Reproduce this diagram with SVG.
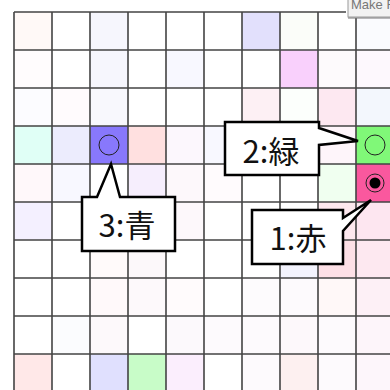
<svg xmlns="http://www.w3.org/2000/svg" width="390" height="390" viewBox="0 0 390 390">
<style>
.gl{stroke:#444;stroke-width:1.6;fill:none}
.mk{fill:none;stroke:#222;stroke-width:1}
.co{fill:#fff;stroke:#000;stroke-width:2.5;stroke-linejoin:miter}
.lb{font-family:"Noto Sans CJK JP","Noto Sans",sans-serif;font-size:31px;fill:#111;text-anchor:middle}
</style>
<rect width="390" height="390" fill="#fff"/>
<g id="cells">
<rect x="14" y="12" width="38" height="38" fill="#fff9f7"/>
<rect x="90" y="12" width="38" height="38" fill="#f6f6fd"/>
<rect x="242" y="12" width="38" height="38" fill="#e2e0fc"/>
<rect x="280" y="12" width="38" height="38" fill="#fbfdf9"/>
<rect x="356" y="12" width="38" height="38" fill="#fafbfe"/>
<rect x="14" y="50" width="38" height="38" fill="#fffcfd"/>
<rect x="90" y="50" width="38" height="38" fill="#f6f6fd"/>
<rect x="166" y="50" width="38" height="38" fill="#f8f8ff"/>
<rect x="280" y="50" width="38" height="38" fill="#f9d0fc"/>
<rect x="318" y="50" width="38" height="38" fill="#fdfafc"/>
<rect x="356" y="50" width="38" height="38" fill="#fdf8fd"/>
<rect x="14" y="88" width="38" height="38" fill="#fcfcff"/>
<rect x="52" y="88" width="38" height="38" fill="#fffbfd"/>
<rect x="90" y="88" width="38" height="38" fill="#f8f8fd"/>
<rect x="242" y="88" width="38" height="38" fill="#fdf0f4"/>
<rect x="280" y="88" width="38" height="38" fill="#fcfffc"/>
<rect x="318" y="88" width="38" height="38" fill="#fde8f1"/>
<rect x="356" y="88" width="38" height="38" fill="#f3f7fd"/>
<rect x="14" y="126" width="38" height="38" fill="#e0fff6"/>
<rect x="52" y="126" width="38" height="38" fill="#ececfd"/>
<rect x="128" y="126" width="38" height="38" fill="#ffe0e0"/>
<rect x="166" y="126" width="38" height="38" fill="#fcf7fd"/>
<rect x="204" y="126" width="38" height="38" fill="#f8f8ff"/>
<rect x="318" y="126" width="38" height="38" fill="#fef5fa"/>
<rect x="14" y="164" width="38" height="38" fill="#fff8fa"/>
<rect x="52" y="164" width="38" height="38" fill="#f8f8ff"/>
<rect x="128" y="164" width="38" height="38" fill="#f6eefd"/>
<rect x="166" y="164" width="38" height="38" fill="#fdf8fb"/>
<rect x="204" y="164" width="38" height="38" fill="#fffbfd"/>
<rect x="318" y="164" width="38" height="38" fill="#f0fff0"/>
<rect x="14" y="202" width="38" height="38" fill="#f4f0ff"/>
<rect x="166" y="202" width="38" height="38" fill="#fdf8fb"/>
<rect x="318" y="202" width="38" height="38" fill="#fde8ee"/>
<rect x="356" y="202" width="38" height="38" fill="#fde6f0"/>
<rect x="90" y="240" width="38" height="38" fill="#fffafa"/>
<rect x="128" y="240" width="38" height="38" fill="#fcf8fa"/>
<rect x="280" y="240" width="38" height="38" fill="#f3f3fd"/>
<rect x="318" y="240" width="38" height="38" fill="#fde0e6"/>
<rect x="356" y="240" width="38" height="38" fill="#fde8f0"/>
<rect x="90" y="278" width="38" height="38" fill="#fff9fa"/>
<rect x="128" y="278" width="38" height="38" fill="#fdf9fb"/>
<rect x="166" y="278" width="38" height="38" fill="#fffbfc"/>
<rect x="242" y="278" width="38" height="38" fill="#fdfbfd"/>
<rect x="280" y="278" width="38" height="38" fill="#fdfafd"/>
<rect x="318" y="278" width="38" height="38" fill="#fff8f8"/>
<rect x="356" y="278" width="38" height="38" fill="#fdf0f6"/>
<rect x="52" y="316" width="38" height="38" fill="#fbfcfe"/>
<rect x="90" y="316" width="38" height="38" fill="#fdf9fb"/>
<rect x="166" y="316" width="38" height="38" fill="#fcf9fc"/>
<rect x="204" y="316" width="38" height="38" fill="#fdfafd"/>
<rect x="242" y="316" width="38" height="38" fill="#fdfafd"/>
<rect x="280" y="316" width="38" height="38" fill="#fdf8fb"/>
<rect x="318" y="316" width="38" height="38" fill="#fdfafd"/>
<rect x="356" y="316" width="38" height="38" fill="#fdf5fa"/>
<rect x="14" y="354" width="38" height="38" fill="#ffe8e8"/>
<rect x="90" y="354" width="38" height="38" fill="#e0e0fe"/>
<rect x="128" y="354" width="38" height="38" fill="#c8fcc8"/>
<rect x="166" y="354" width="38" height="38" fill="#fbeefd"/>
<rect x="242" y="354" width="38" height="38" fill="#fdfafd"/>
<rect x="280" y="354" width="38" height="38" fill="#fdf0f0"/>
<rect x="318" y="354" width="38" height="38" fill="#fdfafd"/>
<rect x="356" y="354" width="38" height="38" fill="#fdf6fb"/>
</g>
<g id="blue-cell"><rect x="90" y="126" width="38" height="38" fill="#8878fc"/><circle class="mk" cx="109" cy="145" r="10"/></g>
<g id="green-cell"><rect x="356" y="126" width="38" height="38" fill="#80f878"/><circle class="mk" cx="375" cy="145" r="10"/></g>
<g id="red-cell"><rect x="356" y="164" width="38" height="38" fill="#fa589e"/><circle class="mk" cx="375" cy="183" r="9"/><circle cx="375" cy="183" r="5.5" fill="#000"/></g>
<g id="grid" class="gl">
<path d="M14 12V392M52 12V392M90 12V392M128 12V392M166 12V392M204 12V392M242 12V392M280 12V392M318 12V392M356 18V392"/>
<path d="M14 12H346M14 50H392M14 88H392M14 126H392M14 164H392M14 202H392M14 240H392M14 278H392M14 316H392M14 354H392"/>
</g>
<g id="button">
<rect x="348" y="-6" width="50" height="23" fill="#f2f2f2" stroke="#9a9a9a" stroke-width="1"/>
<line x1="348" y1="18" x2="392" y2="18" stroke="#777" stroke-width="1"/>
<text x="351" y="9" font-family="Liberation Sans,Arial,sans-serif" font-size="13" fill="#777">Make Fi</text>
</g>
<g id="connectors"></g>
<g id="callout-3">
<path class="co" d="M82 197H97L111 164L120 197H175V251H82Z"/>
<text class="lb" x="127" y="237">3:青</text>
</g>
<g id="callout-2">
<path class="co" d="M225 122H319V128L358 141L319 145V175H225Z"/>
<text class="lb" x="271" y="163">2:緑</text>
</g>
<g id="callout-1">
<path class="co" d="M252 210H343V218L371 200L343 231V264H252Z"/>
<text class="lb" x="298" y="250">1:赤</text>
</g>
</svg>
